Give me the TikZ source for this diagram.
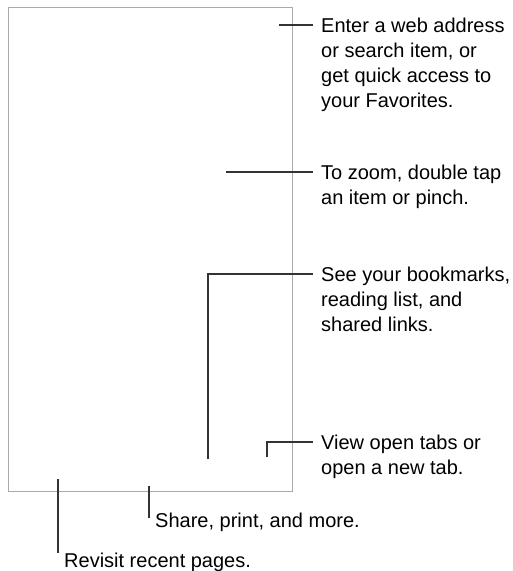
\documentclass[tikz,border=0pt]{standalone}
\usepackage{fontspec}
\setmainfont{Liberation Sans}
\definecolor{leadgray}{HTML}{333333}
\definecolor{framegray}{HTML}{AAAAAA}
\begin{document}
\begin{tikzpicture}[x=1pt,y=-1pt,
  lead/.style={draw=leadgray, line width=1.8pt},
  frame/.style={draw=framegray, line width=1.1pt},
  lbl/.style={anchor=base west, align=left, inner sep=0pt,
    font=\fontsize{20}{25}\selectfont, text=black}]
\useasboundingbox (0,0) rectangle (513,571);
\node[frame, anchor=north west, minimum width=284pt, minimum height=484pt, inner sep=0pt] (screen) at (8,7) {};

% multi-line labels are anchored at the baseline of their last line
\node[lbl] (t1) at (321,107) {Enter a web address\\or search item, or\\get quick access to\\your Favorites.};
\node[lbl] (t2) at (321,204) {To zoom, double tap\\an item or pinch.};
\node[lbl] (t3) at (321,331) {See your bookmarks,\\reading list, and\\shared links.};
\node[lbl] (t4) at (321,474) {View open tabs or\\open a new tab.};
\node[lbl] (t5) at (155,527) {Share, print, and more.};
\node[lbl] (t6) at (64,567) {Revisit recent pages.};

\coordinate (a1) at (279,25);  \coordinate (b1) at (313,25);
\coordinate (a2) at (226,172); \coordinate (b2) at (313,172);
\coordinate (a3) at (208,459); \coordinate (b3) at (313,274);
\coordinate (a4) at (267,457); \coordinate (b4) at (313,442);
\coordinate (a5) at (149,486); \coordinate (b5) at (149,518);
\coordinate (a6) at (58,479);  \coordinate (b6) at (58,553);

\draw[lead] (a1) -- (b1);
\draw[lead] (a2) -- (b2);
\draw[lead] (a3) |- (b3);
\draw[lead] (a4) |- (b4);
\draw[lead] (a5) -- (b5);
\draw[lead] (a6) -- (b6);
\end{tikzpicture}
\end{document}
